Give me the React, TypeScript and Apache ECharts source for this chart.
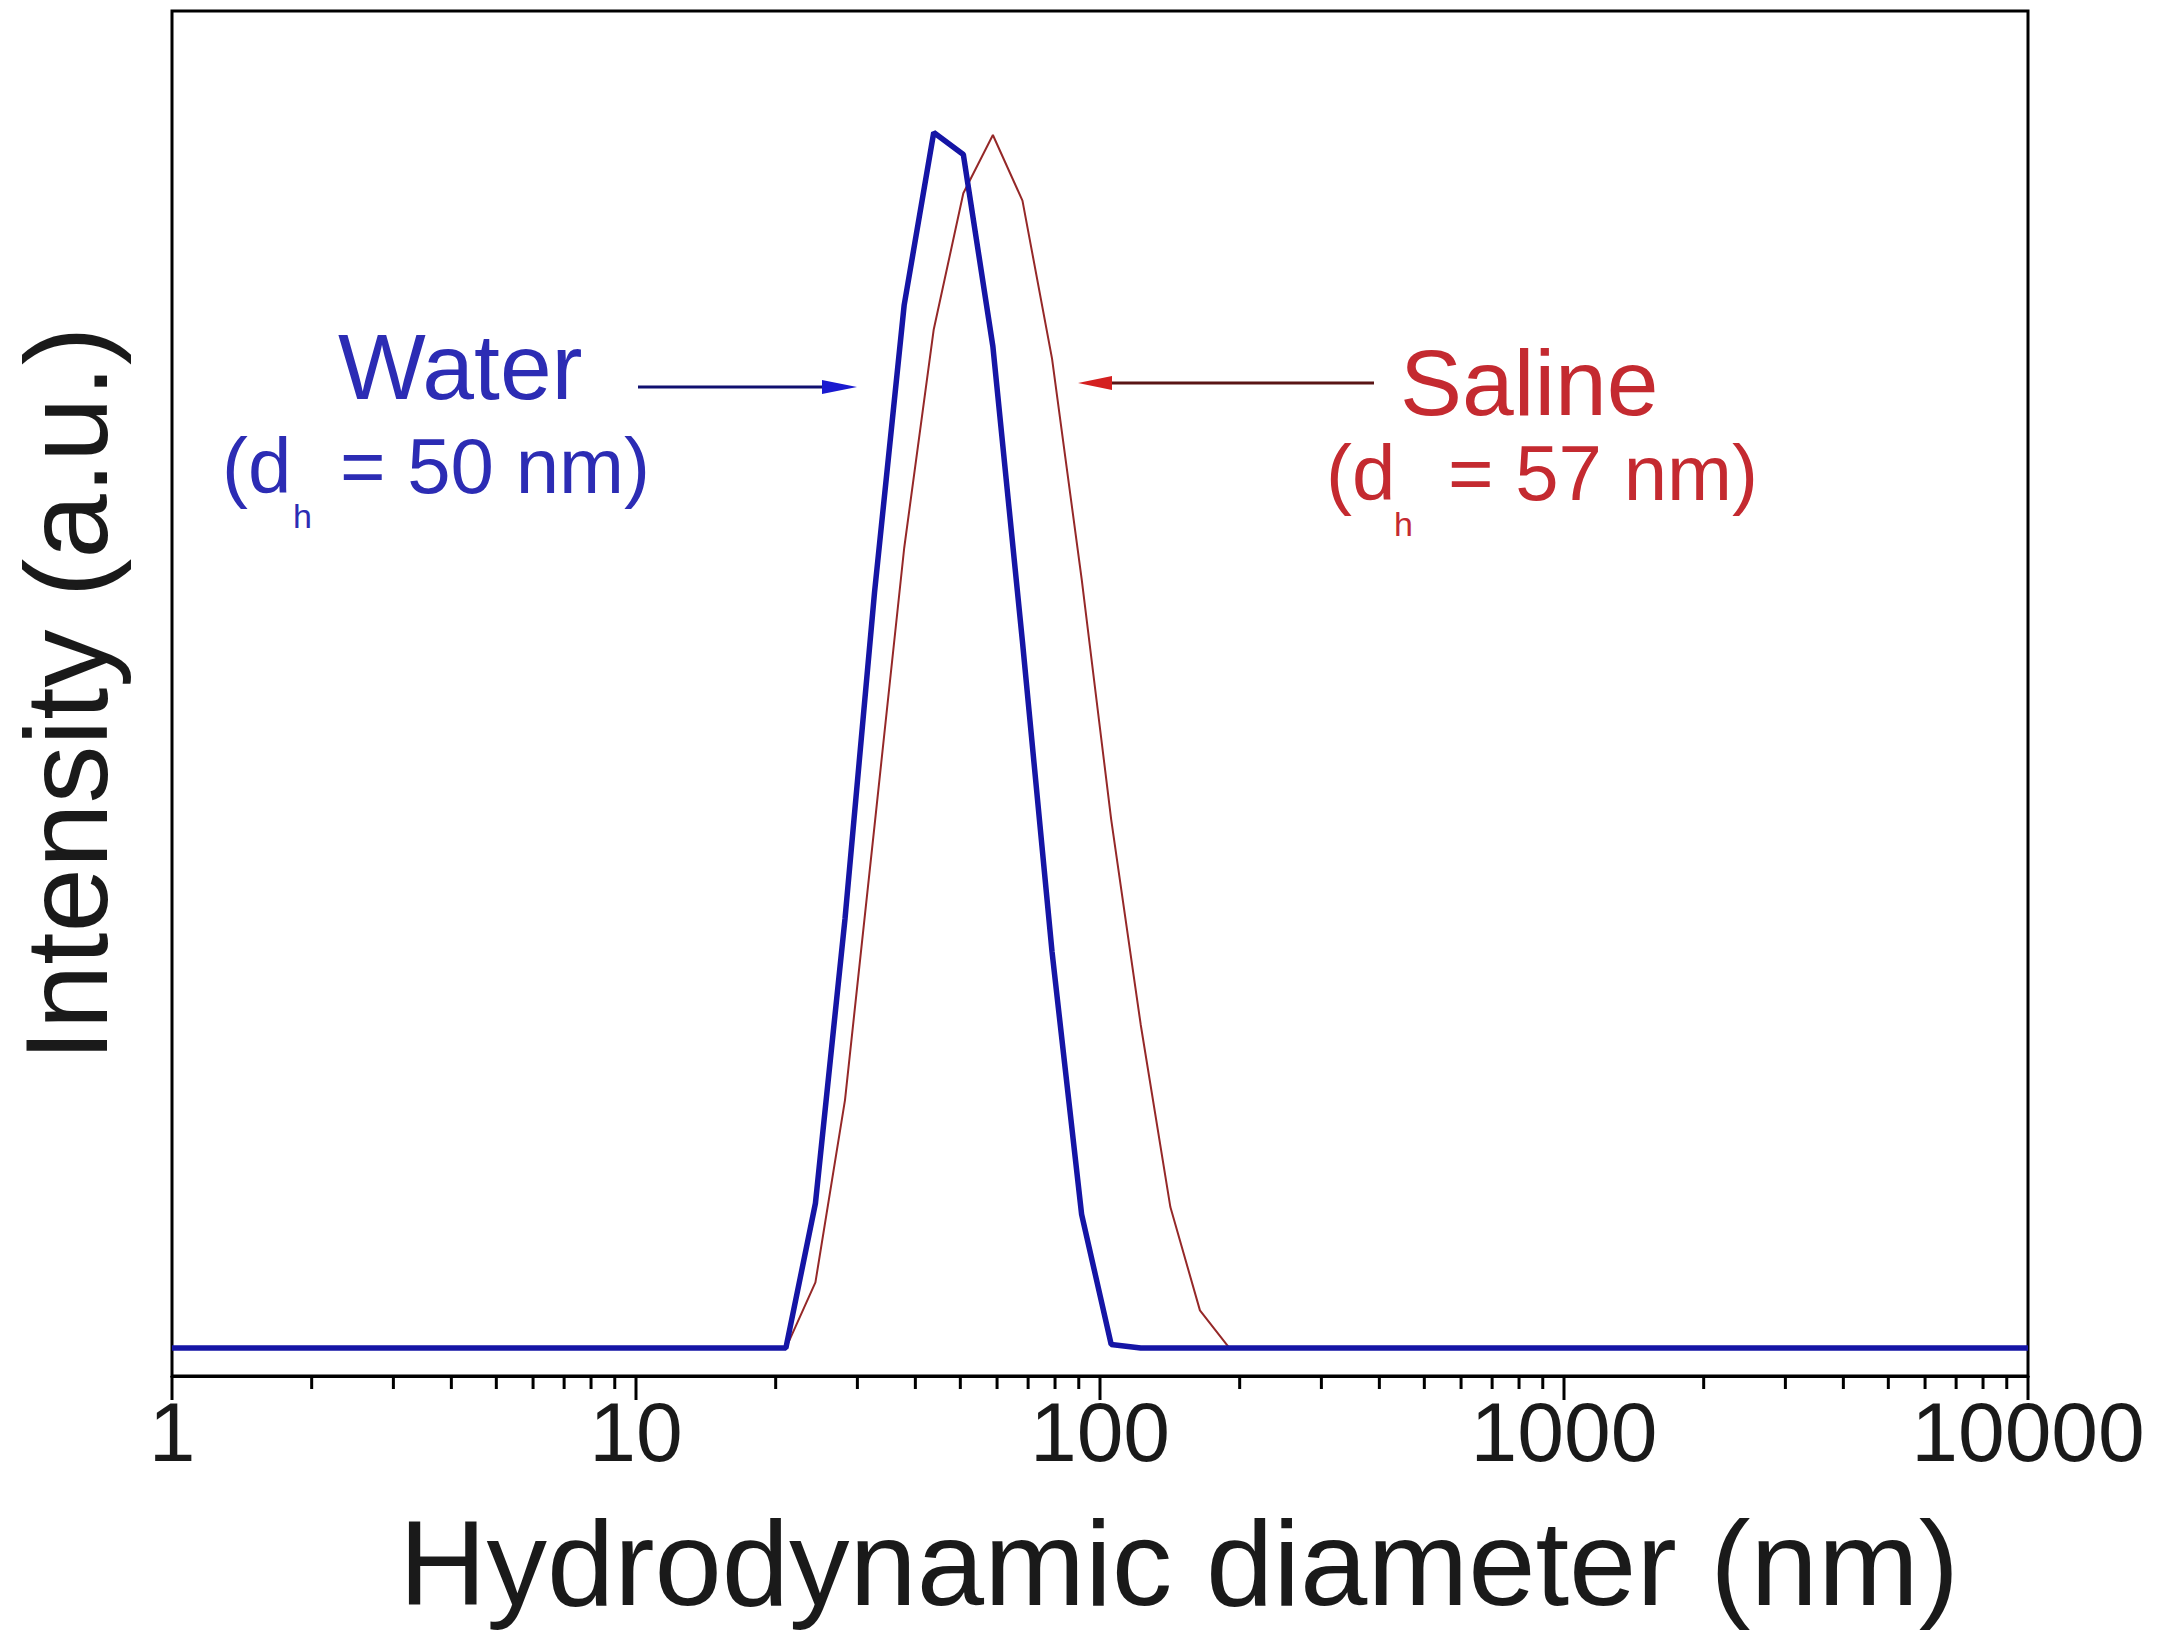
import React, { useEffect, useRef } from "react";
import * as echarts from "echarts";

// Hydrodynamic diameter bins (nm) and intensity (a.u., peak = 100)
const waterDiameters = [1, 21.04, 24.36, 28.21, 32.67, 37.84, 43.82, 50.75, 58.77, 68.06, 78.82, 91.28, 105.7, 122.4, 10000];
const waterIntensity = [0, 0, 11.9, 35.3, 62.2, 85.8, 100, 98.2, 82.4, 58.1, 32.6, 11.0, 0.3, 0, 0];

const salineDiameters = [1, 21.04, 24.36, 28.21, 32.67, 37.84, 43.82, 50.75, 58.77, 68.06, 78.82, 91.28, 105.7, 122.4, 141.8, 164.2, 190.1, 10000];
const salineIntensity = [0, 0, 5.4, 20.4, 43.0, 65.8, 83.8, 95.0, 99.8, 94.4, 81.4, 63.3, 43.5, 26.6, 11.6, 3.1, 0, 0];

const majorTickValues = [1, 10, 100, 1000, 10000];
const minorTickValues = [2, 3, 4, 5, 6, 7, 8, 9, 20, 30, 40, 50, 60, 70, 80, 90, 200, 300, 400, 500, 600, 700, 800, 900, 2000, 3000, 4000, 5000, 6000, 7000, 8000, 9000];

const X_MIN = 1;
const X_MAX = 10000;
const Y_MIN = -2.3;
const Y_MAX = 110;

const FONT = "'Liberation Sans', Arial, Helvetica, sans-serif";
const BLUE_LINE = "#1515a5";
const RED_LINE = "#952828";
const BLUE_TEXT = "#2c2cb4";
const RED_TEXT = "#c42a30";

export default function App() {
  const ref = useRef<HTMLDivElement>(null);

  useEffect(() => {
    document.body.style.margin = "0";
    if (!ref.current) return;
    const chart = echarts.init(ref.current, null, { renderer: "svg" });

    const water = waterDiameters.map((d, i) => [d, waterIntensity[i]]);
    const saline = salineDiameters.map((d, i) => [d, salineIntensity[i]]);
    const ticks = [
      ...majorTickValues.map((v) => [v, Y_MIN, 24]),
      ...minorTickValues.map((v) => [v, Y_MIN, 13]),
    ];

    chart.setOption({
      animation: false,
      backgroundColor: "#ffffff",
      grid: {
        left: 172,
        top: 11,
        right: 139,
        bottom: 276,
        show: true,
        borderColor: "#000",
        borderWidth: 3,
        backgroundColor: "transparent",
        containLabel: false,
      },
      xAxis: {
        type: "log",
        logBase: 10,
        min: X_MIN,
        max: X_MAX,
        axisLine: { show: true, onZero: false, lineStyle: { color: "#000", width: 3 } },
        axisTick: { show: false },
        minorTick: { show: false },
        splitLine: { show: false },
        axisLabel: {
          show: true,
          margin: 14,
          color: "#1a1a1a",
          fontFamily: FONT,
          fontSize: 84,
          formatter: (v: number) => String(Math.round(v)),
        },
      },
      yAxis: {
        type: "value",
        min: Y_MIN,
        max: Y_MAX,
        axisLine: { show: false },
        axisTick: { show: false },
        axisLabel: { show: false },
        splitLine: { show: false },
      },
      series: [
        {
          name: "Saline",
          type: "line",
          data: saline,
          showSymbol: false,
          symbol: "none",
          lineStyle: { color: RED_LINE, width: 2 },
          z: 3,
        },
        {
          name: "Water",
          type: "line",
          data: water,
          showSymbol: false,
          symbol: "none",
          lineStyle: { color: BLUE_LINE, width: 5.5 },
          z: 4,
        },
        {
          name: "axisTicks",
          type: "custom",
          clip: false,
          silent: true,
          data: ticks,
          encode: { x: 0, y: 1 },
          renderItem: (params: any, api: any) => {
            const p = api.coord([api.value(0), api.value(1)]);
            const len = api.value(2);
            return {
              type: "line",
              shape: { x1: p[0], y1: p[1], x2: p[0], y2: p[1] + len },
              style: { stroke: "#000", lineWidth: 3 },
            };
          },
          z: 5,
        },
      ],
      graphic: [
        {
          type: "text",
          x: 67,
          y: 694,
          rotation: Math.PI / 2,
          style: {
            text: "Intensity (a.u.)",
            fontFamily: FONT,
            fontSize: 116,
            fill: "#1a1a1a",
            align: "center",
            verticalAlign: "middle",
          },
        },
        {
          type: "text",
          x: 1179,
          y: 1563,
          style: {
            text: "Hydrodynamic diameter (nm)",
            fontFamily: FONT,
            fontSize: 121,
            fill: "#1a1a1a",
            align: "center",
            verticalAlign: "middle",
          },
        },
        // Water annotation
        {
          type: "text",
          x: 338,
          y: 367,
          style: { text: "Water", fontFamily: FONT, fontSize: 93, fill: BLUE_TEXT, align: "left", verticalAlign: "middle" },
        },
        {
          type: "text",
          x: 222,
          y: 466,
          style: { text: "(d", fontFamily: FONT, fontSize: 78, fill: BLUE_TEXT, align: "left", verticalAlign: "middle" },
        },
        {
          type: "text",
          x: 293,
          y: 516,
          style: { text: "h", fontFamily: FONT, fontSize: 34, fill: BLUE_TEXT, align: "left", verticalAlign: "middle" },
        },
        {
          type: "text",
          x: 340,
          y: 466,
          style: { text: "= 50 nm)", fontFamily: FONT, fontSize: 78, fill: BLUE_TEXT, align: "left", verticalAlign: "middle" },
        },
        {
          type: "line",
          shape: { x1: 638, y1: 387, x2: 830, y2: 387 },
          style: { stroke: "#101070", lineWidth: 3 },
        },
        {
          type: "polygon",
          shape: { points: [[857, 387], [822, 380], [822, 394]] },
          style: { fill: "#1a1ad0" },
        },
        // Saline annotation
        {
          type: "text",
          x: 1400,
          y: 383,
          style: { text: "Saline", fontFamily: FONT, fontSize: 93, fill: RED_TEXT, align: "left", verticalAlign: "middle" },
        },
        {
          type: "text",
          x: 1326,
          y: 473,
          style: { text: "(d", fontFamily: FONT, fontSize: 78, fill: RED_TEXT, align: "left", verticalAlign: "middle" },
        },
        {
          type: "text",
          x: 1394,
          y: 524,
          style: { text: "h", fontFamily: FONT, fontSize: 34, fill: RED_TEXT, align: "left", verticalAlign: "middle" },
        },
        {
          type: "text",
          x: 1448,
          y: 473,
          style: { text: "= 57 nm)", fontFamily: FONT, fontSize: 78, fill: RED_TEXT, align: "left", verticalAlign: "middle" },
        },
        {
          type: "line",
          shape: { x1: 1105, y1: 383, x2: 1374, y2: 383 },
          style: { stroke: "#5a1515", lineWidth: 3 },
        },
        {
          type: "polygon",
          shape: { points: [[1078, 383], [1112, 376], [1112, 390]] },
          style: { fill: "#d42020" },
        },
      ],
    });

    return () => {
      chart.dispose();
    };
  }, []);

  return (
    <div
      ref={ref}
      style={{ position: "fixed", left: 0, top: 0, width: 2167, height: 1652, background: "#fff" }}
    />
  );
}
